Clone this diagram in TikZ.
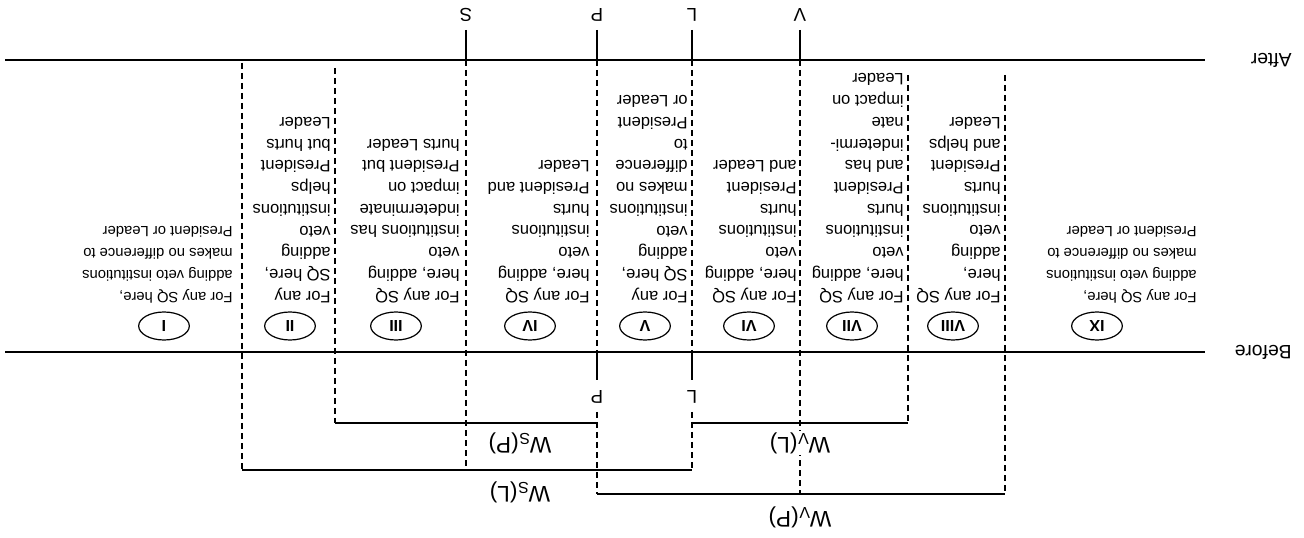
\documentclass[tikz,border=0pt]{standalone}
\usepackage{fontspec}
\setmainfont{Liberation Sans}
\usetikzlibrary{shapes.geometric}
\begin{document}
\begin{tikzpicture}[x=0.75pt,y=-0.75pt,
  txt/.style={rotate=180, anchor=north west, align=left, inner sep=0pt, font=\fontsize{11.1}{16.3}\selectfont},
  coltxt/.style={txt, font=\fontsize{12.4}{16.3}\selectfont},
  num/.style={rotate=180, draw, ellipse, line width=0.9pt, minimum width=38pt, minimum height=21pt, inner sep=0pt, font=\fontsize{12}{14}\selectfont\bfseries},
  lbl/.style={rotate=180, inner sep=1pt, font=\fontsize{14}{16}\selectfont},
  side/.style={rotate=180, anchor=west, inner sep=0pt, font=\fontsize{14.5}{16}\selectfont},
  wlbl/.style={rotate=180, fill=white, inner sep=1pt, font=\fontsize{17}{19}\selectfont},
  axis/.style={line width=1.3pt},
  solidv/.style={line width=1.1pt},
  dashv/.style={line width=0.85pt, dash pattern=on 4.5pt off 3pt},
  brk/.style={line width=1.1pt}]
\useasboundingbox (0,0) rectangle (1304,538);
% main lines
\coordinate (aL) at (5,60);   \coordinate (aR) at (1205,60);
\coordinate (bL) at (5,352);  \coordinate (bR) at (1205,352);
\draw[axis] (aL) -- (aR);
\draw[axis] (bL) -- (bR);
\node[side] (after) at (1292,60) {After};
\node[side] (before) at (1292,352) {Before};
% top labels
\node[lbl] (Slab) at (466,15) {S};
\node[lbl] (Plab) at (597,15) {P};
\node[lbl] (Llab) at (692,15) {L};
\node[lbl] (Vlab) at (800,15) {V};
% coordinates of vertical lines
\coordinate (S0) at (466,30); \coordinate (S1) at (466,60); \coordinate (S2) at (466,470);
\coordinate (P0) at (597,30); \coordinate (P1) at (597,60); \coordinate (P2) at (597,352);
\coordinate (P3) at (597,380); \coordinate (P4) at (597,412); \coordinate (P5) at (597,494);
\coordinate (L0) at (692,30); \coordinate (L1) at (692,60); \coordinate (L2) at (692,352);
\coordinate (L3) at (692,380); \coordinate (L4) at (692,412); \coordinate (L5) at (692,470);
\coordinate (V0) at (800,30); \coordinate (V1) at (800,60); \coordinate (V2) at (800,494);
\coordinate (A0) at (242,63); \coordinate (A1) at (242,470);
\coordinate (B0) at (335,68); \coordinate (B1) at (335,423);
\coordinate (C0) at (908,75); \coordinate (C1) at (908,423);
\coordinate (D0) at (1005,75); \coordinate (D1) at (1005,494);
\coordinate (P6) at (597,423);
\coordinate (L6) at (692,423);
% solid parts
\draw[solidv] (S0) -- (S1);
\draw[solidv] (P0) -- (P1);
\draw[solidv] (L0) -- (L1);
\draw[solidv] (V0) -- (V1);
\draw[solidv] (P2) -- (P3);
\draw[solidv] (L2) -- (L3);
\node[lbl] (Pbot) at (597,397) {P};
\node[lbl] (Lbot) at (692,397) {L};
% dashed parts
\draw[dashv] (S1) -- (S2);
\draw[dashv] (P1) -- (P2);
\draw[dashv] (P4) -- (P5);
\draw[dashv] (L1) -- (L2);
\draw[dashv] (L4) -- (L5);
\draw[dashv] (V1) -- (V2);
\draw[dashv] (A0) -- (A1);
\draw[dashv] (B0) -- (B1);
\draw[dashv] (C0) -- (C1);
\draw[dashv] (D0) -- (D1);
% brackets
\draw[brk] (B1) -- (P6);
\draw[brk] (L6) -- (C1);
\draw[brk] (A1) -- (L5);
\draw[brk] (P5) -- (D1);
\node[wlbl] (wsp) at (520,443) {W\textsubscript{S}(P)};
\node[wlbl] (wvl) at (800,443) {W\textsubscript{V}(L)};
\node[wlbl] (wsl) at (520,492) {W\textsubscript{S}(L)};
\node[wlbl] (wvp) at (800,517) {W\textsubscript{V}(P)};
% region numerals
\node[num] (n1) at (164,326) {I};
\node[num] (n2) at (290,326) {II};
\node[num] (n3) at (396,326) {III};
\node[num] (n4) at (530,326) {IV};
\node[num] (n5) at (645,326) {V};
\node[num] (n6) at (749,326) {VI};
\node[num] (n7) at (852,326) {VII};
\node[num] (n8) at (953,326) {VIII};
\node[num] (n9) at (1097,326) {IX};
% region texts
\node[txt] (t1) at (233,303) {For any SQ here,\\adding veto institutions\\makes no difference to\\President or Leader};
\node[coltxt] (t2) at (331,303) {For any\\SQ here,\\adding\\veto\\institutions\\helps\\President\\but hurts\\Leader};
\node[coltxt] (t3) at (460,303) {For any SQ\\here, adding\\veto\\institutions has\\indeterminate\\impact on\\President but\\hurts Leader};
\node[coltxt] (t4) at (590,303) {For any SQ\\here, adding\\veto\\institutions\\hurts\\President and\\Leader};
\node[coltxt] (t5) at (688,303) {For any\\SQ here,\\adding\\veto\\institutions\\makes no\\difference\\to\\President\\or Leader};
\node[coltxt] (t6) at (797,303) {For any SQ\\here, adding\\veto\\institutions\\hurts\\President\\and Leader};
\node[coltxt] (t7) at (904,303) {For any SQ\\here, adding\\veto\\institutions\\hurts\\President\\and has\\indetermi-\\nate\\impact on\\Leader};
\node[coltxt] (t8) at (1001,303) {For any SQ\\here,\\adding\\veto\\institutions\\hurts\\President\\and helps\\Leader};
\node[txt] (t9) at (1197,303) {For any SQ here,\\adding veto institutions\\makes no difference to\\President or Leader};
\end{tikzpicture}
\end{document}
